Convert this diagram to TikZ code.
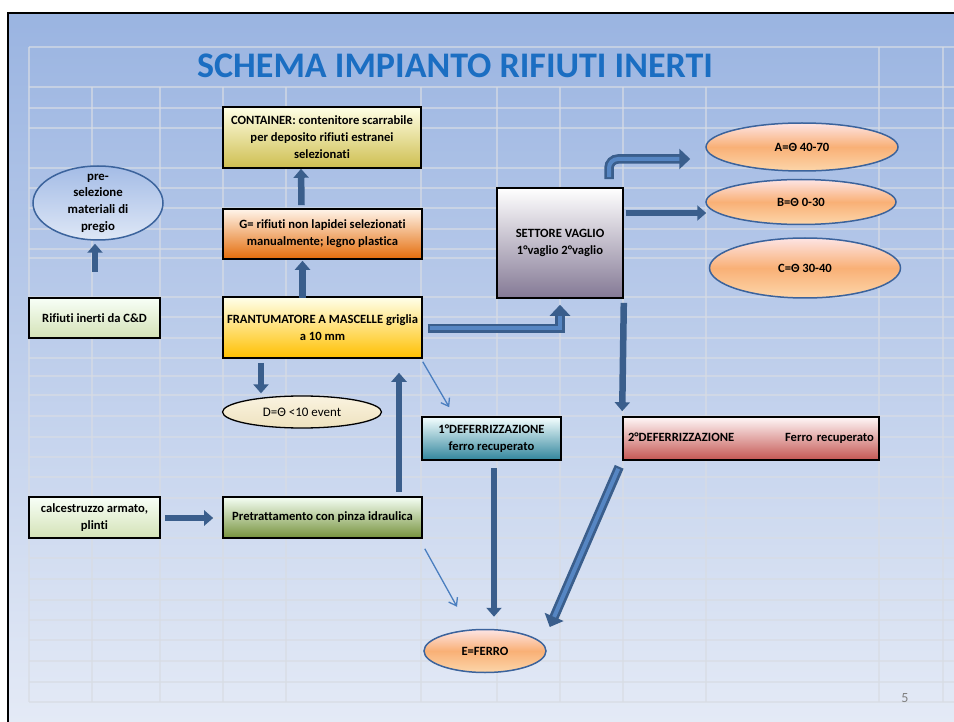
\documentclass[tikz,border=0pt]{standalone}
\usepackage{fontspec}
\setmainfont{Carlito}[Ligatures=NoCommon]
\usepackage{tikz}
\usetikzlibrary{arrows.meta,positioning,shapes.geometric,calc}

\definecolor{bgtop}{HTML}{9AB4E1}
\definecolor{bgbot}{HTML}{E4EAF6}
\definecolor{gridgray}{HTML}{D8DCE4}
\definecolor{flowblue}{HTML}{3A5E8C}
\definecolor{pipeblue}{HTML}{5686C3}
\definecolor{feedblue}{HTML}{4A7EBF}
\definecolor{ovalline}{HTML}{3B639C}
\definecolor{titleblue}{HTML}{1B6EC2}

\tikzset{
  box/.style={draw=black, line width=1.6pt, rectangle, align=center, inner sep=2pt,
    font=\fontsize{12.6}{17}\selectfont\bfseries},
  oval/.style={ellipse, draw=ovalline, line width=1.5pt, inner sep=0pt,
    font=\fontsize{12.6}{17}\selectfont\bfseries},
  peach/.style={oval, top color={rgb,255:red,253;green,228;blue,228}, bottom color={rgb,255:red,252;green,214;blue,170},
    middle color={rgb,255:red,249;green,176;blue,118}},
  flow/.style={draw=flowblue, line width=6.5pt, -{Triangle[length=9pt,width=15pt]}},
  pipe/.style={draw=flowblue, line width=9.5pt, -{Triangle[length=11pt,width=20pt]}},
  pipecore/.style={draw=pipeblue, line width=4pt, shorten >=11pt},
  feed/.style={draw=feedblue, line width=1.3pt, -{Straight Barb[length=7pt,width=10pt]}},
  gridline/.style={draw=gridgray, line width=1.5pt, opacity=0.65},
}

\begin{document}
\begin{tikzpicture}[x=1pt,y=-1pt]
  \useasboundingbox (0,0) rectangle (954,722);
  % slide background and frame
  \shade[top color=bgtop, bottom color=bgbot] (8,13) rectangle (954,722);
  \draw[line width=2.5pt] (8,722) -- (8,13) -- (954,13);
  % sheet grid
  \foreach \gx in {92,160,223,286,421,497,560,623,706}
    \draw[gridline] (\gx,87) -- (\gx,702);
  \foreach \gx in {29,879,943}
    \draw[gridline] (\gx,47) -- (\gx,702);
  \foreach \gy in {47,87,108,128,168,188,208,229,249,258,297,317,338,358,376,395,416,437,457,477,498,518,538,558,579,600,620,640,661,682,702}
    \draw[gridline] (29,\gy) -- (954,\gy);

  % title
  \node[font=\fontsize{36}{40}\selectfont\bfseries, text=titleblue] (title) at (455,66)
    {SCHEMA IMPIANTO RIFIUTI INERTI};

  % boxes
  \node[box, minimum width=198, minimum height=61, top color=yellow!10!white,
    bottom color={rgb,255:red,206;green,190;blue,80}] (cont) at (322,137.5)
    {CONTAINER: contenitore scarrabile\\per deposito rifiuti estranei\\selezionati};
  \node[box, minimum width=199, minimum height=50, top color=orange!8!white,
    bottom color={rgb,255:red,228;green,108;blue,10}] (g) at (322.5,234)
    {G= rifiuti non lapidei selezionati\\manualmente; legno plastica};
  \node[box, minimum width=199, minimum height=61, top color=yellow!8!white,
    bottom color={rgb,255:red,255;green,192;blue,0}] (frant) at (322.5,327.5)
    {FRANTUMATORE A MASCELLE griglia\\a 10 mm};
  \node[box, minimum width=131, minimum height=40, top color=green!3!white,
    bottom color={rgb,255:red,212;green,226;blue,182}] (rif) at (94.5,318)
    {Rifiuti inerti da C\&D};
  \node[box, minimum width=131, minimum height=41, top color=green!3!white,
    bottom color={rgb,255:red,212;green,226;blue,182}] (calc) at (94.5,517.5)
    {calcestruzzo armato,\\plinti};
  \node[box, minimum width=199, minimum height=41, top color=green!4!white,
    bottom color={rgb,255:red,118;green,146;blue,60}] (pret) at (322.5,517.5)
    {Pretrattamento con pinza idraulica};
  \node[box, minimum width=139, minimum height=43, top color=cyan!4!white,
    bottom color={rgb,255:red,49;green,133;blue,156}] (def1) at (491.5,438.5)
    {1°DEFERRIZZAZIONE\\ferro recuperato};
  \node[box, minimum width=256, minimum height=43, text width=246, align=left,
    top color=red!3!white, bottom color={rgb,255:red,196;green,86;blue,82}] (def2) at (751,438.5)
    {2°DEFERRIZZAZIONE\hfill Ferro recuperato};
  \node[box, minimum width=126, minimum height=110, top color=white,
    bottom color={rgb,255:red,132;green,121;blue,149}] (vaglio) at (560,243)
    {SETTORE VAGLIO\\1°vaglio 2°vaglio};

  % ellipses
  \node[oval, minimum width=130, minimum height=74, top color={rgb,255:red,164;green,188;blue,230},
    bottom color={rgb,255:red,222;green,231;blue,246}] (pre) at (98,203) {};
  \node[font=\fontsize{12.8}{16.7}\selectfont\bfseries, align=center] (pretext) at (pre.center)
    {pre-\\selezione\\materiali di\\pregio};
  \node[oval, draw=black, line width=1.3pt, minimum width=159, minimum height=32,
    font=\fontsize{13}{16}\selectfont, top color={rgb,255:red,250;green,243;blue,224},
    bottom color={rgb,255:red,238;green,226;blue,190}] (dd) at (302,412) {D=Θ <10 event};
  \node[peach, minimum width=192, minimum height=48] (a) at (802,147) {A=Θ 40-70};
  \node[peach, minimum width=190, minimum height=45] (b) at (801,202) {B=Θ 0-30};
  \node[peach, minimum width=191, minimum height=60] (c) at (805,268) {C=Θ 30-40};
  \node[peach, minimum width=122, minimum height=43] (e) at (485,651) {E=FERRO};

  % page number
  \node[font=\fontsize{14}{16}\selectfont, text=gray] (pagenum) at (905,698) {5};

  % solid flow arrows
  \draw[flow] ($(rif.north)+(0.5,-25)$) -- ($(pre.south)+(-3,3)$);
  \draw[flow] ($(frant.north)+(-20,2)$) -- ($(g.south)+(-20,1)$);
  \draw[flow] ($(g.north)+(-21,-3)$) -- ($(cont.south)+(-21,0)$);
  \draw[flow] ($(frant.south)+(-61.5,4)$) -- ($(dd.north)+(-41,-2)$);
  \draw[flow] ($(pret.north)+(76.5,-4)$) -- ($(frant.south)+(76.5,14)$);
  \draw[flow] ($(calc.east)+(4,0.5)$) -- ($(pret.west)+(-9,0.5)$);
  \draw[flow] ($(def1.south)+(2.5,7)$) -- ($(e.north)+(9,-12)$);
  \draw[flow] ($(vaglio.east)+(2,-30)$) -- ($(b.west)+(1,11)$);
  \draw[flow] ($(vaglio.south east)+(0,4)$) -- ($(def2.north west)+(0,-5)$);

  % outlined pipe arrows
  \draw[pipe] ($(frant.east)+(5,1)$) -| ($(vaglio.south)+(0,6)$);
  \draw[pipecore] ($(frant.east)+(7,1)$) -| ($(vaglio.south)+(0,6)$);
  \draw[pipe, rounded corners=9pt] ($(vaglio.north)+(49,-8)$) |- ($(a.west)+(-15,12)$);
  \draw[pipecore, rounded corners=9pt] ($(vaglio.north)+(49,-10)$) |- ($(a.west)+(-15,12)$);
  \draw[pipe] ($(def2.south west)+(-3,6)$) -- ($(e.east)+(3,-24)$);
  \draw[pipecore] ($(def2.south west)+(-4,8)$) -- ($(e.east)+(3,-24)$);

  % thin feed arrows
  \draw[feed] ($(frant.south east)+(0,3)$) -- ($(def1.north west)+(28,-9)$);
  \draw[feed] ($(pret.south east)+(2,10)$) -- ($(e.north)+(-28,-22)$);
\end{tikzpicture}
\end{document}
